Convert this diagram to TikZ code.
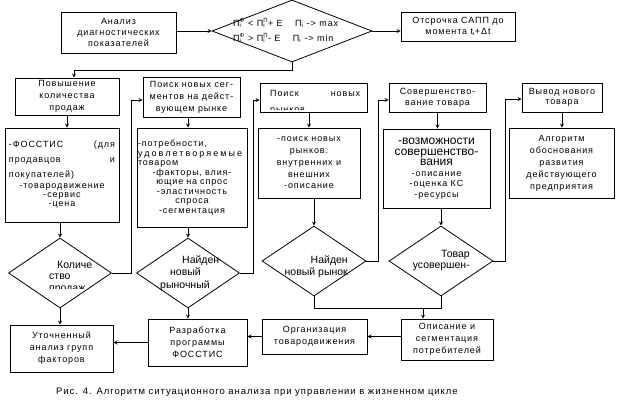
\documentclass[tikz,border=0pt]{standalone}
\usepackage{fontspec}
\setmainfont{Liberation Sans}[LetterSpace=10]
\newfontfamily\diafont{Liberation Sans}
\usetikzlibrary{shapes.geometric}

\newcommand\Pv[1]{П\rlap{\textsubscript{i}}\textsuperscript{#1}}
\newcommand\jline[2]{\leavevmode\hbox to\hsize{#1\hfill#2}}
\newcommand\lline[1]{\leavevmode\hbox to\hsize{#1\hfil}}
\newcommand\bsz[1]{\fontsize{9}{#1}\selectfont}
\newcommand\dl[1]{{\diafont\fontsize{12}{11.5}\selectfont #1}}

\tikzset{
  blk/.style={draw, line width=0.8pt, inner sep=1pt, align=center, font=\bsz{12}},
  dia/.style={draw, diamond, line width=0.8pt, inner sep=0pt},
  dtxt/.style={inner sep=0pt, font=\diafont\fontsize{10.5}{12.5}\selectfont},
  conn/.style={line width=0.8pt}
}

\begin{document}
\begin{tikzpicture}[>=stealth, x=1pt, y=-1pt]
\fill[white] (0,0) rectangle (619,401);
\useasboundingbox (0,0) rectangle (619,401);

% top row
\node[blk, minimum width=115pt, minimum height=41pt, font=\bsz{11}] (anal) at (118.5,32.5) {Анализ\\диагностических\\показателей};
\node[dia, minimum width=160pt, minimum height=62pt] (cond) at (292,31) {};
\node[inner sep=0pt, anchor=west, align=left, font=\bsz{15}] (condtxt) at (233,30.5)
  {\Pv{Ф} < \Pv{П}+ E \quad П\textsubscript{i} -> max\\\Pv{Ф} > \Pv{П}- E \quad П\textsubscript{i} -> min};
\node[blk, minimum width=114pt, minimum height=29pt, font=\bsz{10.7}] (otsr) at (458,26.5) {Отсрочка САПП до\\момента t\textsubscript{i}+Δt};

% column 1
\node[blk, minimum width=104pt, minimum height=37pt] (pov) at (67,96.5) {Повышение\\количества\\продаж};
\node[blk, minimum width=114pt, minimum height=94pt, text width=106pt, font=\bsz{9}] (foss) at (62,175)
  {\jline{-ФОССТИС}{(для}\\[6pt]\jline{продавцов}{и}\\[6pt]\lline{покупателей)}\\[2pt]-товародвижение\\-сервис\\-цена};
\node[dia, minimum width=103pt, minimum height=70pt] (kol) at (60,273) {};
\begin{scope}
  \clip (0,240) rectangle (120,288);
  \node[dtxt, anchor=north west, align=left, font=\diafont\fontsize{10.5}{11.7}\selectfont] (koltxt) at (49,260.8) {\hspace*{8pt}Количе\\ство\\продаж};
\end{scope}
\node[blk, minimum width=103pt, minimum height=47pt] (utoch) at (61.5,348.5) {Уточненный\\анализ групп\\факторов};

% column 2
\node[blk, minimum width=97pt, minimum height=40pt] (seg) at (191.5,97) {Поиск новых сег-\\ментов на дейст-\\вующем рынке};
\node[blk, minimum width=110pt, minimum height=99pt, text width=108pt, font=\bsz{9.5}] (potr) at (192,177.5)
  {\lline{-потребности,}\\\lline{\addfontfeature{LetterSpace=23}удовлетворяемые}\\\lline{товаром}\\-факторы, влия-\\ющие на спрос\\-эластичность\\спроса\\-сегментация};
\node[dia, minimum width=103pt, minimum height=70pt] (najd1) at (188,273) {};
\node[dtxt, anchor=north west, align=left] (najd1txt) at (160,255.5) {\hspace*{22pt}Найден\\\hspace*{10pt}новый\\рыночный};
\node[blk, minimum width=99pt, minimum height=47pt] (razr) at (197.5,342.5) {Разработка\\программы\\ФОССТИС};

% column 3
\node[blk, minimum width=107pt, minimum height=29pt] (rynk) at (313.5,97.5) {};
\begin{scope}
  \clip (rynk.north west) rectangle ([yshift=3pt]rynk.south east);
  \node[inner sep=0pt, anchor=north west, text width=90pt, align=left, font=\bsz{16.3}] (rynktxt) at (270,89.8) {\jline{Поиск}{новых}\\рынков};
\end{scope}
\node[blk, minimum width=102pt, minimum height=70pt, font=\bsz{11.7}] (vnut) at (309,163) {-поиск новых\\рынков:\\внутренних и\\внешних\\-описание};
\node[dia, minimum width=104pt, minimum height=70pt] (najd2) at (314,261) {};
\node[dtxt, anchor=north east, align=right] (najd2txt) at (348,255.5) {Найден\\новый рынок};
\node[blk, minimum width=105pt, minimum height=35pt] (org) at (314.5,336.5) {Организация\\товародвижения};

% column 4
\node[blk, minimum width=97pt, minimum height=29pt, font=\bsz{10.7}] (sov) at (437.5,97.5) {Совершенство-\\вание товара};
\node[blk, minimum width=107pt, minimum height=79pt, font=\bsz{10.5}] (vozm) at (436.5,168.5)
  {\dl{-возможности}\\\dl{совершенство-}\\\dl{вания}\\-описание\\-оценка КС\\-ресурсы};
\node[dia, minimum width=104pt, minimum height=70pt] (tovar) at (441,261) {};
\node[dtxt, anchor=north east, align=right, font=\diafont\fontsize{10.5}{11}\selectfont] (tovartxt) at (470,250) {Товар\\усовершен-};
\node[blk, minimum width=92pt, minimum height=41pt] (opis) at (447,339.5) {Описание и\\сегментация\\потребителей};

% column 5
\node[blk, minimum width=80pt, minimum height=29pt, font=\bsz{10}] (vyv) at (562,97.5) {Вывод нового\\товара};
\node[blk, minimum width=105pt, minimum height=70pt] (alg) at (561.5,163) {Алгоритм\\обоснования\\развития\\действующего\\предприятия};

\node[inner sep=0pt, anchor=west, font=\fontsize{9.5}{11}\selectfont] (caption) at (56,392) {Рис. 4. Алгоритм ситуационного анализа при управлении в жизненном цикле};

% connectors
\draw[conn,->] (cond.west -| anal.east) -- (cond.west);
\draw[conn,->] (cond.east) -- (cond.east -| otsr.west);
\coordinate (split) at (74,70);
\draw[conn,->] (cond.south) |- (split) -- (split |- pov.north);

\draw[conn,->] (pov.south) -- (pov.south |- foss.north);
\draw[conn,->] (kol.north |- foss.south) -- (kol.north);
\draw[conn,->] (kol.south) -- (kol.south |- utoch.north);
\draw[conn,->] (kol.east) -- ++(19,0) |- ([yshift=-3pt]seg.west);

\draw[conn,->] (najd1.north |- seg.south) -- (najd1.north |- potr.north);
\draw[conn,->] (najd1.north |- potr.south) -- (najd1.north);
\draw[conn,->] (najd1.south) -- (najd1.south |- razr.north);
\draw[conn,->] (razr.west) -- (razr.west -| utoch.east);
\draw[conn,->] (najd1.east) -- ++(13,0) |- ([yshift=-2.5pt]rynk.west);

\draw[conn,->] (vnut.north |- rynk.south) -- (vnut.north);
\draw[conn,->] (najd2.north |- vnut.south) -- (najd2.north);
\draw[conn,->] (najd2.east) -- ++(12,0) |- ([yshift=-2.5pt]sov.west);
\draw[conn] (najd2.south) -- ++(0,12) -| (tovar.south);
\coordinate (merge) at (423,308);
\draw[conn,->] (merge) -- (merge |- opis.north);
\draw[conn,->] (opis.west |- org.east) -- (org.east);
\draw[conn,->] (org.west) -- (org.west -| razr.east);

\draw[conn,->] (sov.south) -- (sov.south |- vozm.north);
\draw[conn,->] (tovar.north |- vozm.south) -- (tovar.north);
\draw[conn,->] (tovar.east) -- ++(12,0) |- ([yshift=-1.5pt]vyv.west);

\draw[conn,->] (vyv.south) -- (vyv.south |- alg.north);
\end{tikzpicture}
\end{document}
